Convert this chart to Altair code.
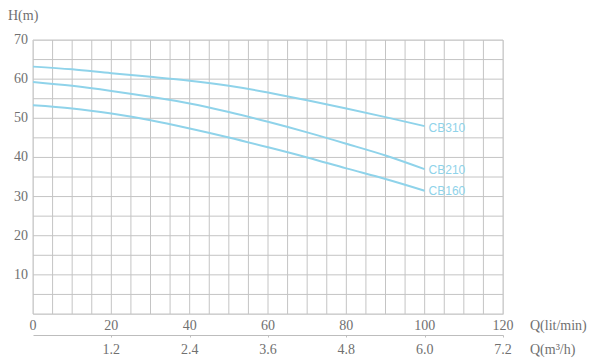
import altair as alt
import pandas as pd

q = [0, 10, 20, 30, 40, 50, 60, 70, 80, 90, 100]
cb310 = [63.2, 62.5, 61.5, 60.6, 59.6, 58.3, 56.6, 54.6, 52.5, 50.3, 48.0]
cb210 = [59.3, 58.3, 57.0, 55.5, 53.8, 51.6, 49.1, 46.4, 43.5, 40.5, 37.0]
cb160 = [53.3, 52.5, 51.2, 49.5, 47.4, 45.1, 42.6, 40.0, 37.2, 34.5, 31.5]
series = ["CB310", "CB210", "CB160"]
label_q = [101, 101, 101]
label_h = [47.5, 36.8, 31.5]
x_grid = list(range(0, 121, 5))
y_grid = list(range(0, 71, 5))
x_ticks = [0, 20, 40, 60, 80, 100, 120]
y_ticks = [10, 20, 30, 40, 50, 60, 70]
sec_q = [20, 40, 60, 80, 100, 120]
sec_labels = ["1.2", "2.4", "3.6", "4.8", "6.0", "7.2"]
titles = ["H(m)", "Q(lit/min)", "Q(m³/h)"]

rows = []
for name, vals in zip(series, [cb310, cb210, cb160]):
    for a, b in zip(q, vals):
        rows.append({"Q": a, "H": b, "s": name})
df = pd.DataFrame(rows)
lab = pd.DataFrame({"Q": label_q, "H": label_h, "s": series})
sec = pd.DataFrame({"Q": sec_q, "t": sec_labels})
xg = pd.DataFrame({"v": x_grid})
yg = pd.DataFrame({"v": y_grid})
xt = pd.DataFrame({"v": x_ticks, "t": [str(v) for v in x_ticks]})
yt = pd.DataFrame({"v": y_ticks, "t": [str(v) for v in y_ticks]})

FONT = "Liberation Serif"
TXT = "#707070"
BLUE = "#8fd3ea"
GRID = "#c4c4c4"
FS = 14

xs = alt.Scale(domain=[0, 120], nice=False)
ys = alt.Scale(domain=[0, 70], nice=False)

vgrid = alt.Chart(xg).mark_rule(color=GRID, strokeWidth=1).encode(
    x=alt.X("v:Q", scale=xs, axis=None), y=alt.value(0), y2=alt.value(274))
hgrid = alt.Chart(yg).mark_rule(color=GRID, strokeWidth=1).encode(
    y=alt.Y("v:Q", scale=ys, axis=None), x=alt.value(0), x2=alt.value(470))

lines = alt.Chart(df).mark_line(interpolate="monotone", strokeWidth=2, color=BLUE).encode(
    x=alt.X("Q:Q", scale=xs, axis=None),
    y=alt.Y("H:Q", scale=ys, axis=None),
    detail="s:N",
)

labels = alt.Chart(lab).mark_text(align="left", baseline="middle", font="Liberation Sans",
                                  fontSize=12, color=BLUE).encode(
    x=alt.X("Q:Q", scale=xs, axis=None), y=alt.Y("H:Q", scale=ys, axis=None), text="s:N")

xlab = alt.Chart(xt).mark_text(align="center", baseline="alphabetic", font=FONT,
                               fontSize=FS, color=TXT).encode(
    x=alt.X("v:Q", scale=xs, axis=None), y=alt.value(290), text="t:N")

ylab = alt.Chart(yt).mark_text(align="right", baseline="middle", font=FONT,
                               fontSize=FS, color=TXT).encode(
    y=alt.Y("v:Q", scale=ys, axis=None), x=alt.value(-5), text="t:N")

# secondary scale: its own bottom axis supplies the thin separator line
sec_text = alt.Chart(sec).mark_text(align="center", baseline="alphabetic", font=FONT,
                                    fontSize=FS, color=TXT).encode(
    x=alt.X("Q:Q", scale=xs, axis=alt.Axis(
        orient="bottom", offset=21, domain=True, domainColor="#bdbdbd", domainWidth=1,
        values=sec_q, ticks=True, tickSize=2, tickColor="#bdbdbd",
        labels=False, grid=False, title=None)),
    y=alt.value(314), text="t:N")

title_df = pd.DataFrame({"t": titles, "px": [-25, 497, 497], "py": [-20, 290, 314]})
title_text = alt.Chart(title_df).mark_text(
    align="left", baseline="alphabetic", font=FONT, fontSize=FS, color=TXT).encode(
    x=alt.X("px:Q", scale=None, axis=None), y=alt.Y("py:Q", scale=None, axis=None), text="t:N")

chart = alt.layer(vgrid, hgrid, lines, labels, xlab, ylab, sec_text, title_text).resolve_scale(
    x="independent"
).properties(
    width=470, height=274,
    autosize=alt.AutoSizeParams(type="none"),
    padding={"left": 25, "top": 32, "right": 89, "bottom": 47},
).configure_view(stroke=None).configure(background="white")

chart.save("out.html", embed_options={"renderer": "svg", "actions": False})
